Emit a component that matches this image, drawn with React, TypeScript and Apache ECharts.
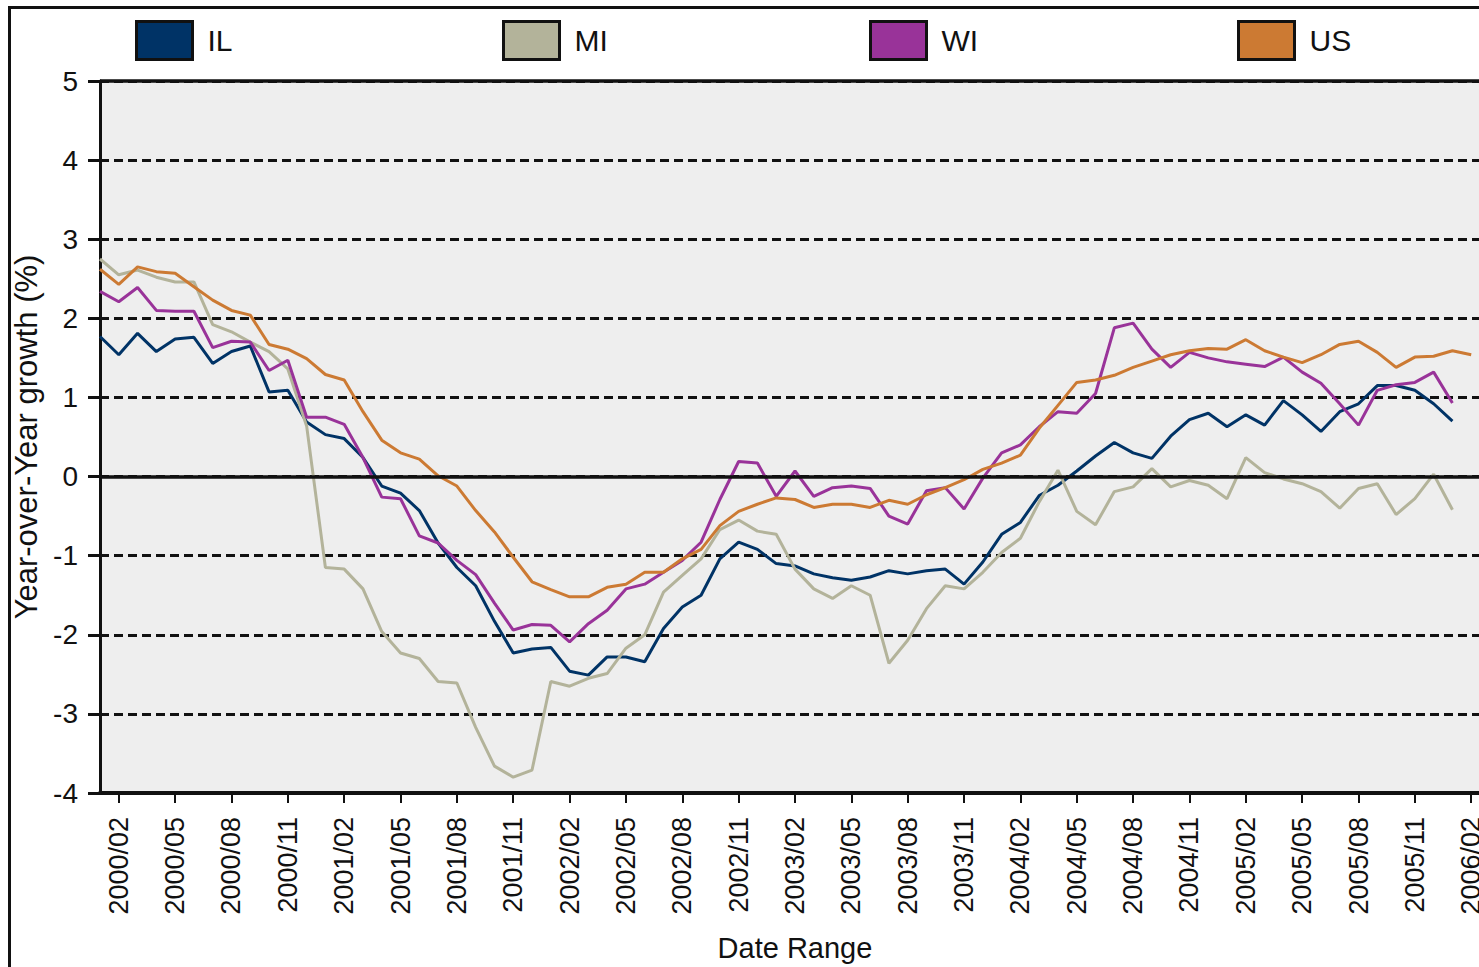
import React, { useEffect, useRef } from "react";
import * as echarts from "echarts";

const START_YEAR = 2000;
const MONTH_COUNT = 75; // 2000/01 .. 2006/03
const months: string[] = [];
for (let i = 0; i < MONTH_COUNT; i++) {
  const y = START_YEAR + Math.floor(i / 12);
  const m = (i % 12) + 1;
  months.push(`${y}/${m < 10 ? "0" + m : m}`);
}

const seriesNames = ["IL", "MI", "WI", "US"];

const ilValues = [
  1.77, 1.54, 1.81, 1.58, 1.74, 1.76, 1.43, 1.58, 1.65, 1.07, 1.09, 0.69,
  0.53, 0.48, 0.24, -0.12, -0.21, -0.43, -0.84, -1.15, -1.38, -1.83, -2.23, -2.18,
  -2.16, -2.46, -2.51, -2.28, -2.28, -2.34, -1.92, -1.65, -1.5, -1.04, -0.83, -0.92,
  -1.1, -1.13, -1.23, -1.28, -1.31, -1.27, -1.19, -1.23, -1.19, -1.17, -1.36, -1.08,
  -0.73, -0.58, -0.24, -0.11, 0.07, 0.26, 0.43, 0.3, 0.23, 0.51, 0.72, 0.8,
  0.63, 0.78, 0.65, 0.96, 0.78, 0.57, 0.82, 0.92, 1.15, 1.15, 1.09, 0.92,
  0.7,
];

const miValues = [
  2.75, 2.55, 2.61, 2.52, 2.46, 2.46, 1.92, 1.83, 1.7, 1.58, 1.36, 0.64,
  -1.15, -1.17, -1.42, -1.96, -2.23, -2.3, -2.59, -2.61, -3.17, -3.66, -3.8, -3.71,
  -2.59, -2.65, -2.55, -2.49, -2.17, -2.0, -1.46, -1.25, -1.04, -0.67, -0.55, -0.69,
  -0.73, -1.17, -1.42, -1.54, -1.38, -1.5, -2.36, -2.07, -1.67, -1.38, -1.42, -1.21,
  -0.96, -0.78, -0.32, 0.08, -0.44, -0.61, -0.19, -0.13, 0.1, -0.13, -0.05, -0.11,
  -0.28, 0.24, 0.05, -0.03, -0.09, -0.19, -0.4, -0.15, -0.09, -0.48, -0.28, 0.03,
  -0.42,
];

const wiValues = [
  2.34, 2.21, 2.39, 2.1, 2.09, 2.09, 1.63, 1.71, 1.7, 1.34, 1.47, 0.75,
  0.75, 0.66, 0.24, -0.26, -0.28, -0.75, -0.84, -1.06, -1.24, -1.6, -1.94, -1.87,
  -1.88, -2.09, -1.86, -1.69, -1.42, -1.36, -1.21, -1.06, -0.83, -0.29, 0.19, 0.17,
  -0.25, 0.07, -0.25, -0.14, -0.12, -0.15, -0.5, -0.6, -0.18, -0.14, -0.41, -0.02,
  0.3, 0.4, 0.63, 0.82, 0.8, 1.05, 1.88, 1.94, 1.61, 1.38, 1.57, 1.5,
  1.45, 1.42, 1.39, 1.51, 1.32, 1.18, 0.92, 0.65, 1.09, 1.16, 1.19, 1.32,
  0.93,
];

const usValues = [
  2.62, 2.43, 2.65, 2.59, 2.57, 2.4, 2.23, 2.1, 2.04, 1.67, 1.61, 1.49,
  1.29, 1.22, 0.82, 0.46, 0.3, 0.22, 0.01, -0.12, -0.43, -0.7, -1.02, -1.33,
  -1.43, -1.52, -1.52, -1.4, -1.36, -1.21, -1.21, -1.04, -0.92, -0.62, -0.44, -0.35,
  -0.27, -0.29, -0.39, -0.35, -0.35, -0.39, -0.3, -0.35, -0.23, -0.14, -0.04, 0.09,
  0.17, 0.27, 0.61, 0.9, 1.19, 1.22, 1.28, 1.38, 1.46, 1.54, 1.59, 1.62,
  1.61, 1.73, 1.59, 1.51, 1.44, 1.54, 1.67, 1.71, 1.57, 1.38, 1.51, 1.52,
  1.59, 1.54,
];

const seriesColors = ["#003366", "#B3B39A", "#993399", "#CC7A33"];
const seriesValues = [ilValues, miValues, wiValues, usValues];
const legendLefts = [130, 497, 864, 1232];

const FONT = "'Liberation Sans', Arial, sans-serif";

export default function App() {
  const ref = useRef<HTMLDivElement>(null);
  useEffect(() => {
    if (!ref.current) return;
    const chart = echarts.init(ref.current, undefined, { renderer: "svg" });
    const labelInterval = (index: number) => index % 3 === 1;
    const option: any = {
      animation: false,
      backgroundColor: "#ffffff",
      textStyle: { fontFamily: FONT },
      graphic: [
        {
          type: "rect",
          silent: true,
          z: -10,
          shape: { x: 9.5, y: 7.5, width: 3000, height: 3000 },
          style: { fill: "none", stroke: "#111111", lineWidth: 3 },
        },
      ],
      legend: seriesNames.map((name, k) => ({
        data: [name],
        left: legendLefts[k],
        top: 15,
        icon: "rect",
        itemWidth: 56,
        itemHeight: 38,
        itemStyle: { borderColor: "#111111", borderWidth: 3 },
        textStyle: {
          fontSize: 30,
          color: "#111111",
          fontFamily: FONT,
          padding: [0, 0, 0, 10],
        },
        selectedMode: false,
      })),
      grid: {
        left: 100,
        top: 81,
        width: 1390,
        height: 713,
        show: true,
        backgroundColor: "#EEEEEE",
        borderWidth: 0,
      },
      xAxis: {
        type: "category",
        data: months,
        boundaryGap: false,
        name: "Date Range",
        nameLocation: "middle",
        nameGap: 140,
        nameTextStyle: { fontSize: 29, color: "#111111", fontFamily: FONT },
        axisLine: { onZero: false, lineStyle: { color: "#111111", width: 4 } },
        axisTick: {
          interval: labelInterval,
          length: 10,
          lineStyle: { color: "#111111", width: 2 },
        },
        axisLabel: {
          interval: labelInterval,
          rotate: 90,
          margin: 24,
          fontSize: 27,
          color: "#111111",
          fontFamily: FONT,
        },
        splitLine: { show: false },
      },
      yAxis: {
        type: "value",
        min: -4,
        max: 5,
        interval: 1,
        name: "Year-over-Year growth (%)",
        nameLocation: "middle",
        nameRotate: 90,
        nameGap: 53,
        nameTextStyle: { fontSize: 31, color: "#111111", fontFamily: FONT },
        axisLine: { show: true, lineStyle: { color: "#111111", width: 3 } },
        axisTick: {
          show: true,
          length: 12,
          lineStyle: { color: "#111111", width: 3 },
        },
        axisLabel: {
          margin: 22,
          fontSize: 28,
          color: "#111111",
          fontFamily: FONT,
        },
        splitLine: {
          show: true,
          lineStyle: { color: "#111111", width: 3, type: [9, 5] },
        },
      },
      series: seriesNames.map((name, k) => ({
        name,
        type: "line",
        data: seriesValues[k],
        symbol: "none",
        smooth: false,
        color: seriesColors[k],
        itemStyle: { color: seriesColors[k] },
        lineStyle: { color: seriesColors[k], width: 3 },
        z: 3,
        ...(k === 0
          ? {
              markLine: {
                silent: true,
                symbol: "none",
                label: { show: false },
                lineStyle: { color: "#111111", type: "solid", width: 3.5 },
                data: [{ yAxis: 0 }, { yAxis: 5 }],
              },
            }
          : {}),
      })),
    };
    chart.setOption(option);
    return () => chart.dispose();
  }, []);
  return (
    <div
      style={{
        position: "fixed",
        left: 0,
        top: 0,
        width: 1479,
        height: 967,
        overflow: "hidden",
        background: "#ffffff",
      }}
    >
      <div ref={ref} style={{ width: 1520, height: 967 }} />
    </div>
  );
}
